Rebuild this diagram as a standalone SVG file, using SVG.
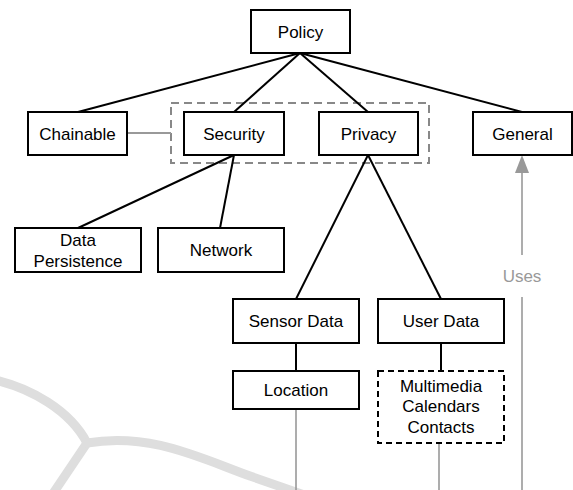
<svg xmlns="http://www.w3.org/2000/svg" width="573" height="490" viewBox="0 0 573 490">
<style>
.box{fill:#fff;stroke:#000;stroke-width:2}
.dbox{fill:#fff;stroke:#000;stroke-width:2;stroke-dasharray:6,4}
.grp{fill:none;stroke:#888;stroke-width:2;stroke-dasharray:8,5}
.t{font-family:"Liberation Sans",Arial,sans-serif;font-size:17px;fill:#000;text-anchor:middle}
.ut{font-family:"Liberation Sans",Arial,sans-serif;font-size:17px;fill:#999;text-anchor:middle}
.e{stroke:#000;stroke-width:2;fill:none}
.g{stroke:#999;stroke-width:1.6;fill:none}
.wm{stroke:#dedede;stroke-width:9;fill:none;stroke-linecap:round}
</style>
<defs>
<marker id="ah" markerWidth="14" markerHeight="18" refX="7" refY="1" orient="auto-start-reverse" markerUnits="userSpaceOnUse" viewBox="0 0 14 18">
<path d="M7,0 L14,18 L0,18 Z" fill="#999"/>
</marker>
</defs>
<rect width="573" height="490" fill="#fff"/>
<g id="watermark">
<path class="wm" d="M-5,380 C30,388 70,410 87,443"/>
<path class="wm" d="M87,443 L52,495"/>
<path class="wm" d="M87,443 C150,432 200,458 250,476 C270,483 290,490 310,497"/>
</g>
<g id="group-box"><rect class="grp" x="171" y="103" width="258" height="60"/></g>
<g id="connectors">
<line class="e" x1="300" y1="53" x2="78" y2="112"/>
<line class="e" x1="300" y1="53" x2="234" y2="112"/>
<line class="e" x1="300" y1="53" x2="368" y2="112"/>
<line class="e" x1="300" y1="53" x2="522" y2="112"/>
<line class="e" x1="234" y1="155" x2="78" y2="228"/>
<line class="e" x1="234" y1="155" x2="220" y2="228"/>
<line class="e" x1="368" y1="155" x2="296" y2="299"/>
<line class="e" x1="368" y1="155" x2="441" y2="299"/>
<line class="e" x1="296" y1="343" x2="296" y2="371"/>
<line class="e" x1="441" y1="343" x2="441" y2="371"/>
<line class="g" x1="127" y1="133" x2="171" y2="133" style="stroke-width:2"/>
<line class="g" x1="296" y1="409" x2="296" y2="490"/>
<line class="g" x1="439" y1="443" x2="439" y2="490"/>
<line class="g" x1="522" y1="490" x2="522" y2="297"/>
<line class="g" x1="522" y1="255" x2="522" y2="173"/>
<path d="M522,155 L529,173 L515,173 Z" fill="#999"/>
<text class="ut" x="522" y="282">Uses</text>
</g>
<g id="policy"><rect class="box" x="251" y="10" width="99" height="43"/><text class="t" x="300.5" y="38">Policy</text></g>
<g id="chainable"><rect class="box" x="28" y="112" width="99" height="43"/><text class="t" x="77.5" y="139.5">Chainable</text></g>
<g id="security"><rect class="box" x="184" y="112" width="100" height="43"/><text class="t" x="234" y="139.5">Security</text></g>
<g id="privacy"><rect class="box" x="319" y="112" width="99" height="43"/><text class="t" x="368.5" y="139.5">Privacy</text></g>
<g id="general"><rect class="box" x="473" y="112" width="99" height="43"/><text class="t" x="522.5" y="139.5">General</text></g>
<g id="data-persistence"><rect class="box" x="15" y="228" width="126" height="44"/><text class="t" x="78" y="246">Data</text><text class="t" x="78" y="266.5">Persistence</text></g>
<g id="network"><rect class="box" x="158" y="228" width="126" height="44"/><text class="t" x="221" y="256">Network</text></g>
<g id="sensor-data"><rect class="box" x="233" y="299" width="126" height="44"/><text class="t" x="296" y="327">Sensor Data</text></g>
<g id="user-data"><rect class="box" x="378" y="299" width="126" height="44"/><text class="t" x="441" y="327">User Data</text></g>
<g id="location"><rect class="box" x="233" y="371" width="126" height="38"/><text class="t" x="296" y="396">Location</text></g>
<g id="user-items"><rect class="dbox" x="378" y="371" width="126" height="72"/><text class="t" x="441" y="391.5">Multimedia</text><text class="t" x="441" y="412">Calendars</text><text class="t" x="441" y="433">Contacts</text></g>
</svg>
